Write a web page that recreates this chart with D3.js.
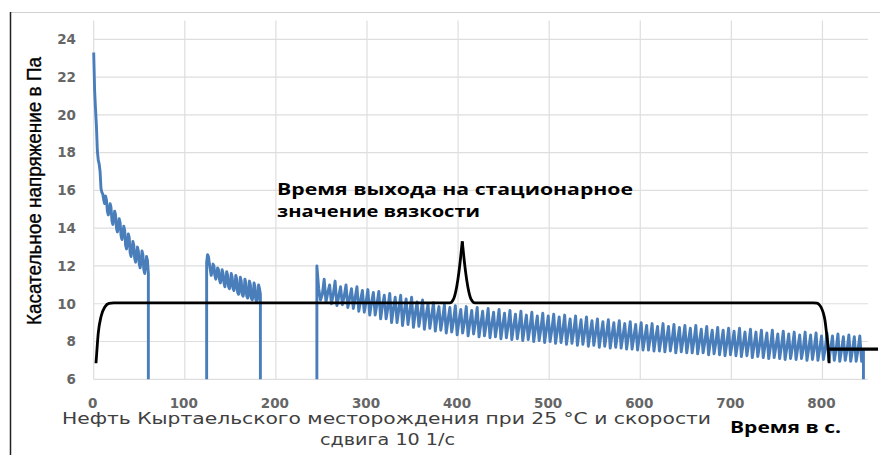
<!DOCTYPE html>
<html><head><meta charset="utf-8">
<script src="https://cdn.jsdelivr.net/npm/d3@7"></script>
<style>body{margin:0;background:#fff} svg{display:block}</style>
</head><body><svg id="c" width="880" height="455"></svg>
<script>
// ---------- data ----------
const xTickValues = [0,100,200,300,400,500,600,700,800];
const yTickValues = [6,8,10,12,14,16,18,20,22,24];

const seg1Start = 0, seg1Step = 1;
const seg1Values = [23.3,21.3,20.3,19.4,18.1,17.6,17.4,17.0,16.1,15.9,
  15.8,15.5,15.3,15.7,15.5,14.9,14.7,14.9,15.3,15.1,
  14.4,14.2,14.5,14.9,14.7,14.0,13.8,14.1,14.5,14.3,
  13.6,13.4,13.7,14.1,13.9,13.1,12.9,13.2,13.7,13.5,
  12.7,12.5,12.8,13.3,13.1,12.4,12.2,12.5,13.0,12.8,
  12.1,11.9,12.2,12.8,12.6,11.8,11.6,12.0,12.5,12.3,11.6];

const seg2Start = 124, seg2Step = 1;
const seg2Values = [12.2,12.6,12.5,12.1,11.8,11.5,11.7,12.1,12.0,11.5,
  11.3,11.5,11.9,11.8,11.3,11.1,11.3,11.8,11.6,11.1,
  10.9,11.2,11.7,11.5,10.9,10.8,11.0,11.6,11.4,10.8,
  10.7,10.9,11.5,11.3,10.6,10.5,10.7,11.4,11.2,10.5,
  10.4,10.6,11.3,11.1,10.4,10.3,10.5,11.2,11.0,10.3,
  10.2,10.4,11.1,10.9,10.2,10.1,10.3,11.0,10.8,10.5];

const seg3Start = 245, seg3Step = 2;
const seg3Values = [12.0,
  10.8,10.2,10.5, 11.3,10.1,10.6, 11.0,10.0,10.5, 11.2,9.9,10.4, 10.9,9.95,10.4,
  11.0,9.8,10.3, 10.8,9.75,10.3, 10.9,9.6,10.2, 10.7,9.55,10.1, 10.75,9.4,10.05,
  10.6,9.4,10.0, 10.65,9.2,9.9, 10.45,9.2,9.8, 10.55,9.0,9.75, 10.35,9.0,9.7,
  10.45,8.85,9.6, 10.25,8.9,9.55, 10.35,8.75,9.5, 10.1,8.8,9.45, 10.2,8.65,9.4,
  10.0,8.7,9.35, 10.05,8.55,9.3, 9.85,8.6,9.2, 9.95,8.45,9.15, 9.8,8.5,9.1,
  9.9,8.35,9.1, 9.7,8.45,9.05, 9.85,8.3,9.0, 9.65,8.4,9.0, 9.8,8.25,8.95,
  9.6,8.3,8.95, 9.75,8.2,8.9, 9.55,8.25,8.9, 9.7,8.15,8.85, 9.5,8.2,8.85,
  9.65,8.1,8.8, 9.45,8.15,8.8, 9.6,8.05,8.75, 9.4,8.1,8.75, 9.55,8.0,8.7,
  9.35,8.05,8.7, 9.5,7.95,8.65, 9.35,8.0,8.65, 9.45,7.9,8.6, 9.3,7.95,8.6,
  9.4,7.85,8.55, 9.2,7.9,8.55, 9.35,7.8,8.5, 9.15,7.85,8.5, 9.3,7.75,8.45,
  9.1,7.8,8.45, 9.2,7.7,8.4, 9.05,7.75,8.4, 9.15,7.65,8.35, 9.0,7.7,8.35,
  9.1,7.65,8.3, 8.95,7.6,8.3, 9.05,7.6,8.25, 8.9,7.55,8.25, 9.0,7.55,8.2,
  8.85,7.55,8.2, 8.95,7.5,8.2, 8.8,7.5,8.15, 8.95,7.45,8.15, 8.8,7.5,8.1,
  8.9,7.4,8.1, 8.75,7.45,8.1, 8.85,7.4,8.05, 8.7,7.4,8.05, 8.85,7.35,8.0,
  8.65,7.4,8.0, 8.8,7.3,8.0, 8.6,7.35,7.95, 8.75,7.3,7.95, 8.6,7.25,7.9,
  8.7,7.3,7.9, 8.55,7.25,7.9, 8.7,7.2,7.85, 8.5,7.25,7.85, 8.65,7.15,7.8,
  8.5,7.2,7.8, 8.6,7.15,7.8, 8.45,7.1,7.75, 8.6,7.15,7.75, 8.4,7.1,7.75,
  8.55,7.05,7.7, 8.4,7.1,7.7, 8.5,7.05,7.7, 8.35,7.1,7.65, 8.5,7.0,7.65,
  8.35,7.05,7.65, 8.45,7.0,7.6, 8.3,7.05,7.6, 8.45,6.95,7.6, 8.3,7.0,7.6,
  8.4,6.95,7.55, 8.25,7.0,7.55, 8.35,6.95,7.55, 8.25,6.95,7.55, 8.3,6.95,7.5];

const gapValue = 0;

// black "stationary" curve, split at the cusp
const riseT = [2.5,3.3,5,8,12.4,16.8,22,391,395,398.5,401,402.8,404.6];
const riseV = [6.85,7.38,8.44,9.31,9.84,10.02,10.05,10.05,10.25,10.9,11.7,12.45,13.3];
const fallT = [404.6,406.4,408.2,410.7,414.2,418.5,790,794,797,799,801,802.7,804.5,806.3,807.4];
const fallV = [13.3,12.45,11.7,10.9,10.25,10.05,10.05,10.03,9.92,9.76,9.5,9.14,8.44,7.64,6.85];
const plateauT = [806.2, 861];
const plateauV = [7.6, 7.6];

const yTitle = "Касательное напряжение в Па";
const xTitle1 = "Нефть Кыртаельского месторождения при 25 °С и скорости";
const xTitle2 = "сдвига 10 1/с";
const xUnit = "Время в с.";
const note1 = "Время выхода на стационарное";
const note2 = "значение вязкости";

// ---------- build ----------
const svg = d3.select("#c");
const x = d3.scaleLinear().domain([0,850]).range([93.7,868]);
const y = d3.scaleLinear().domain([6,25]).range([379.3,20.4]);

// frame
svg.append("line").attr("x1",10).attr("x2",880).attr("y1",12.5).attr("y2",12.5)
  .attr("stroke","#d0d0d0").attr("stroke-width",1);
svg.append("line").attr("x1",10.5).attr("x2",10.5).attr("y1",12).attr("y2",455)
  .attr("stroke","#222").attr("stroke-width",1.5);

// gridlines
svg.append("g").selectAll("line").data(yTickValues).join("line")
  .attr("x1",x(0)).attr("x2",x(850)).attr("y1",d=>y(d)).attr("y2",d=>y(d))
  .attr("stroke","#dedede").attr("stroke-width",1.2);
svg.append("g").selectAll("line").data(xTickValues).join("line")
  .attr("x1",d=>x(d)).attr("x2",d=>x(d)).attr("y1",y(25)).attr("y2",y(6))
  .attr("stroke","#dedede").attr("stroke-width",1.2);

// tick labels
svg.append("g").selectAll("text").data(yTickValues).join("text")
  .attr("x",76).attr("y",d=>y(d)).attr("dy","0.36em").attr("text-anchor","end")
  .attr("font-family","DejaVu Sans").attr("font-weight","bold").attr("font-size",13.5)
  .attr("fill","#666").text(d=>d);
svg.append("g").selectAll("text").data(xTickValues).join("text")
  .attr("x",d=>x(d)-1).attr("y",403).attr("dy","0.36em").attr("text-anchor","middle")
  .attr("font-family","DejaVu Sans").attr("font-weight","bold").attr("font-size",13.5)
  .attr("fill","#666").text(d=>d);

// clip (below y=6)
svg.append("clipPath").attr("id","clip").append("rect")
  .attr("x",0).attr("y",0).attr("width",880).attr("height",y(6));

// blue series
const pts = [];
function addSeg(start, step, vals, leadingGap) {
  if (leadingGap) pts.push({t:start, v:gapValue});
  vals.forEach((v,i)=>pts.push({t:start+i*step, v}));
  pts.push({t:start+(vals.length-1)*step, v:gapValue});
}
addSeg(seg1Start, seg1Step, seg1Values, false);
addSeg(seg2Start, seg2Step, seg2Values, true);
addSeg(seg3Start, seg3Step, seg3Values, true);

svg.append("path").datum(pts).attr("clip-path","url(#clip)")
  .attr("d", d3.line().x(d=>x(d.t)).y(d=>y(d.v)))
  .attr("fill","none").attr("stroke","#4a7ebb").attr("stroke-width",2.9)
  .attr("stroke-linejoin","round");

// black curve
const mono = d3.line().x(d=>x(d.t)).y(d=>y(d.v)).curve(d3.curveMonotoneX);
[[riseT,riseV],[fallT,fallV]].forEach(([T,V])=>{
  svg.append("path").datum(T.map((t,i)=>({t, v:V[i]})))
    .attr("d", mono).attr("fill","none").attr("stroke","#000").attr("stroke-width",2.8)
    .attr("stroke-linecap","butt");
});
svg.append("path").datum(plateauT.map((t,i)=>({t, v:plateauV[i]})))
  .attr("d", d3.line().x(d=>x(d.t)).y(d=>y(d.v)))
  .attr("fill","none").attr("stroke","#000").attr("stroke-width",3.2);

// texts
function txt(s, xx, yy, opts) {
  const t = svg.append("text").attr("x",xx).attr("y",yy).text(s)
    .attr("font-family",opts.family).attr("font-size",opts.size)
    .attr("fill",opts.fill||"#000");
  if (opts.weight) t.attr("font-weight",opts.weight);
  if (opts.anchor) t.attr("text-anchor",opts.anchor);
  if (opts.stroke) t.attr("stroke",opts.fill||"#000").attr("stroke-width",opts.stroke);
  if (opts.len) t.attr("textLength",opts.len).attr("lengthAdjust","spacingAndGlyphs");
  if (opts.rotate) t.attr("transform",`rotate(-90 ${xx} ${yy})`);
  return t;
}
txt(yTitle, 40.5, 191, {family:"'Liberation Sans Narrow','Liberation Sans',Arial", size:20.5, anchor:"middle", len:268, rotate:true, stroke:0.35});
txt(xTitle1, 62, 424, {family:"DejaVu Sans", size:15.5, fill:"#404040", len:649});
txt(xTitle2, 320, 444.5, {family:"DejaVu Sans", size:15.5, fill:"#404040", len:135});
txt(xUnit, 730, 433.3, {family:"'Open Sans'", size:16, weight:700, len:111});
txt(note1, 277, 195, {family:"'Open Sans'", size:16.5, weight:700, len:356});
txt(note2, 277, 216.7, {family:"'Open Sans'", size:16.5, weight:700, len:203});
</script></body></html>
